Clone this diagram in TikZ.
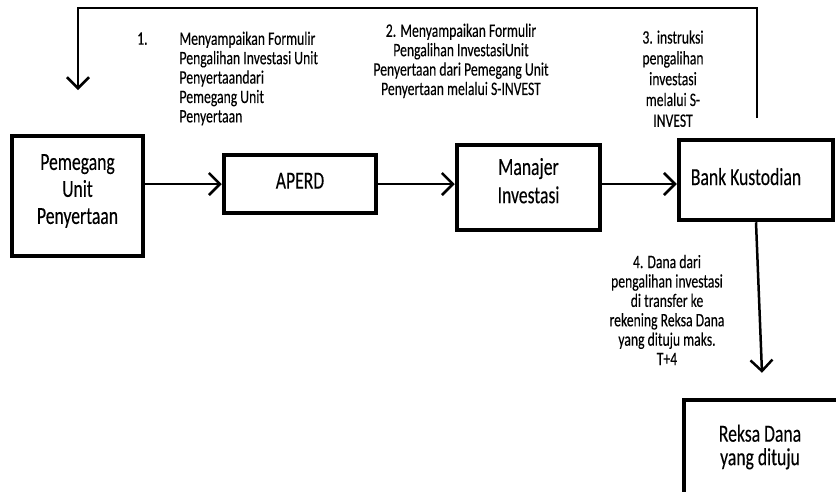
\documentclass[tikz,border=0pt]{standalone}
\usepackage{fontspec}
\setmainfont[FakeStretch=0.72,FakeBold=0.2]{Carlito}
\usetikzlibrary{arrows.meta}
\begin{document}
\begin{tikzpicture}[x=1pt,y=-1pt,
  box/.style={draw, line width=4.5pt, inner sep=0pt},
  boxtext/.style={align=center, inner sep=0pt, font=\fontsize{24.5}{27}\selectfont},
  lbl/.style={align=center, inner sep=0pt, font=\fontsize{19}{19.4}\selectfont},
  arr/.style={line width=2.5pt, -{Straight Barb[length=11pt,width=22pt,line width=2.5pt]}}
]
\useasboundingbox (0,0) rectangle (836,491);
\clip (0,0) rectangle (836,491);
% boxes
\node[box, minimum width=131pt, minimum height=120pt,
  label={[boxtext, yshift=5pt]center:Pemegang\\Unit\\Penyertaan}] (pu) at (77.5,196) {};
\node[box, minimum width=152pt, minimum height=58pt,
  label={[boxtext, yshift=3.3pt]center:APERD}] (ap) at (300,184) {};
\node[box, minimum width=143pt, minimum height=85pt,
  label={[boxtext, yshift=6.8pt, font=\fontsize{24.5}{28.3}\selectfont]center:Manajer\\Investasi}] (mi) at (528.5,187.5) {};
\node[box, minimum width=154pt, minimum height=80pt,
  label={[boxtext, yshift=3.4pt, xshift=-10pt]center:Bank Kustodian}] (bk) at (756,180) {};
\node[box, minimum width=156pt, minimum height=130pt,
  label={[boxtext, yshift=18pt, xshift=-2pt, font=\fontsize{24.5}{23.5}\selectfont]center:Reksa Dana\\yang dituju}] (rd) at (762,465) {};
% horizontal arrows
\draw[arr] (pu.east |- ap.west) -- (ap.west);
\draw[arr] (ap.east) -- (ap.east -| mi.west);
\draw[arr] (mi.east |- ap.east) -- (bk.west |- ap.east);
% down arrow
\draw[arr] (bk.south) -- ([yshift=25pt]rd.north);
% top loop
\coordinate (c1) at (757,118);
\coordinate (c2) at (757,8);
\coordinate (c3) at (78,8);
\coordinate (c4) at (78,90);
\draw[arr] (c1) -- (c2) -- (c3) -- (c4);
% labels
\node[lbl, anchor=base west] (n1) at (137,44.7) {1.};
\node[lbl, align=left, anchor=north west] (l1) at (179.3,31.4) {Menyampaikan Formulir\\Pengalihan Investasi Unit\\Penyertaandari\\Pemegang Unit\\Penyertaan};
\node[lbl, anchor=north] (l2) at (461,23.4) {2. Menyampaikan Formulir\\Pengalihan InvestasiUnit\\Penyertaan dari Pemegang Unit\\Penyertaan melalui S-INVEST};
\node[lbl, font=\fontsize{19}{20.8}\selectfont, anchor=north] (l3) at (673,30.2) {3. instruksi\\pengalihan\\investasi\\melalui S-\\INVEST};
\node[lbl, anchor=north] (l4) at (667,254.7) {4. Dana dari\\pengalihan investasi\\di transfer ke\\rekening Reksa Dana\\yang dituju maks.\\T+4};
\end{tikzpicture}
\end{document}
